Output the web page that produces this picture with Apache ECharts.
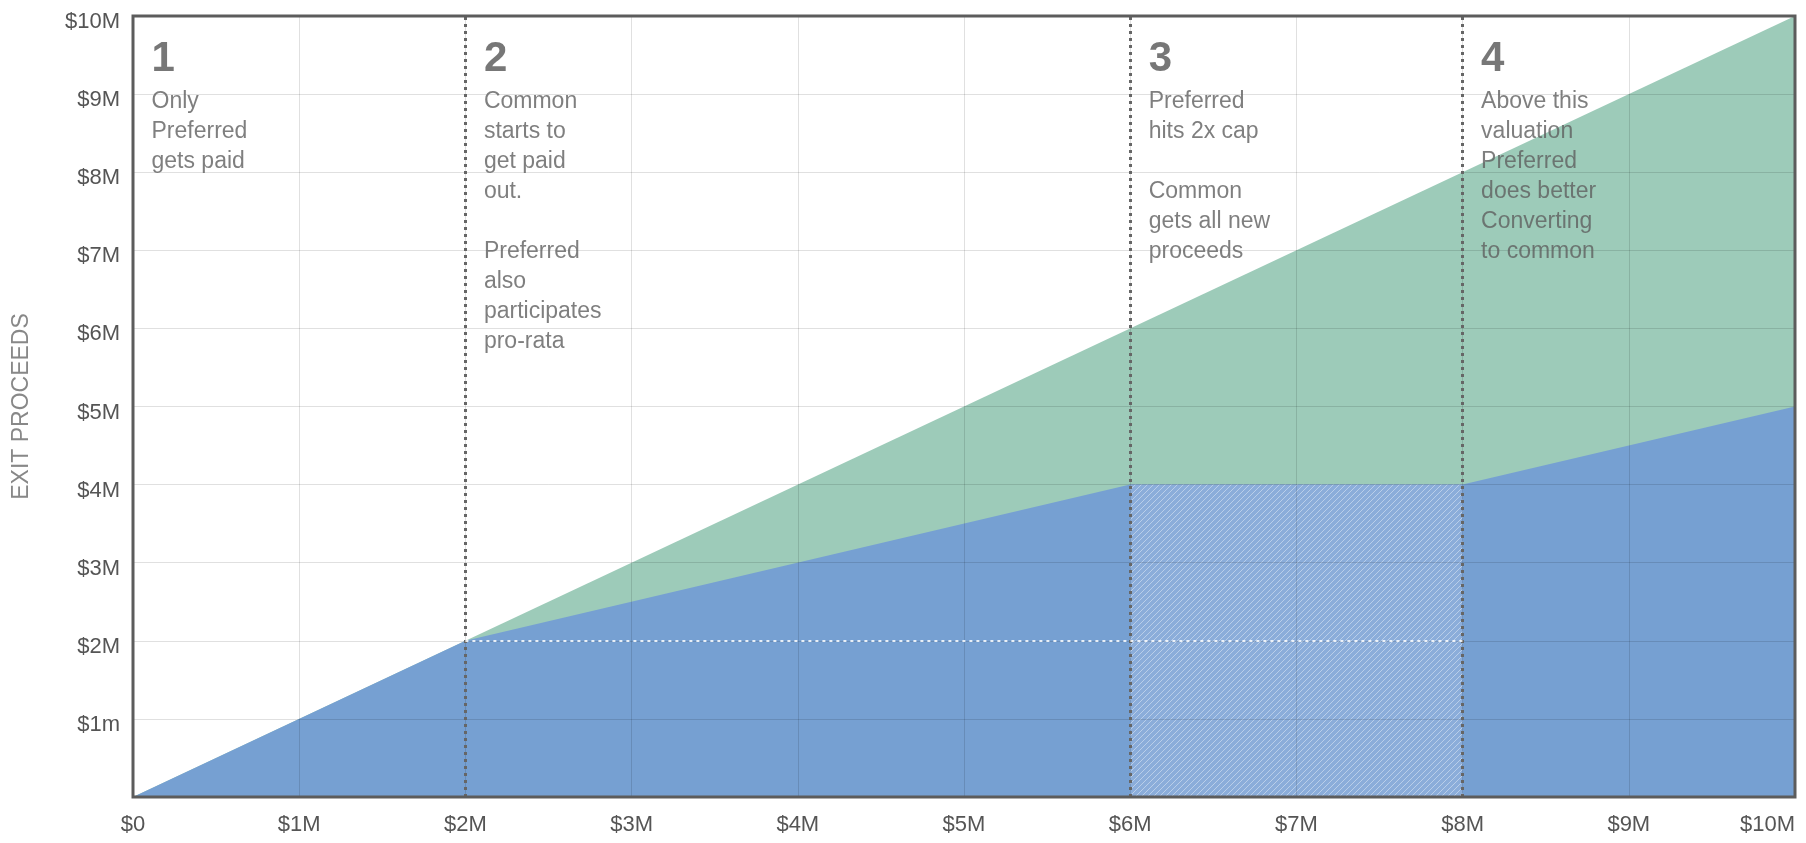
<!DOCTYPE html>
<html>
<head>
<meta charset="utf-8">
<script src="https://cdn.jsdelivr.net/npm/echarts@6/dist/echarts.min.js"></script>
<style>
  html, body { margin: 0; padding: 0; background: #fff; }
  #chart { width: 1806px; height: 843px; }
</style>
</head>
<body>
<div id="chart"></div>
<script>
// exit value ($M) -> proceeds ($M)
const totalX = [0, 10];
const totalY = [0, 10];
const preferredX = [0, 2, 6, 8, 10];
const preferredY = [0, 2, 4, 4, 5];

// capped region (hatched) and threshold lines
const capX = [6, 8];
const capY = [4, 4];
const dividerX = [2, 6, 8];
const commonStart = { x0: 2, x1: 8, y: 2 };

const xTickLabels = ["$0", "$1M", "$2M", "$3M", "$4M", "$5M", "$6M", "$7M", "$8M", "$9M", "$10M"];
const yTickLabels = ["", "$1m", "$2M", "$3M", "$4M", "$5M", "$6M", "$7M", "$8M", "$9M", "$10M"];

const sectionX = [0, 2, 6, 8];
const sectionNum = ["1", "2", "3", "4"];
const sectionText = [
  "Only\nPreferred\ngets paid",
  "Common\nstarts to\nget paid\nout.\n \nPreferred\nalso\nparticipates\npro-rata",
  "Preferred\nhits 2x cap\n \nCommon\ngets all new\nproceeds",
  "Above this\nvaluation\nPreferred\ndoes better\nConverting\nto common",
];

const FONT = '"Liberation Sans", Arial, Helvetica, sans-serif';

// diagonal hatch for the capped region
function hatch() {
  const c = document.createElement("canvas");
  c.width = 6;
  c.height = 6;
  const g = c.getContext("2d");
  g.fillStyle = "#8badda";
  g.fillRect(0, 0, 6, 6);
  g.strokeStyle = "rgba(255,255,255,0.4)";
  g.lineWidth = 1;
  g.beginPath();
  g.moveTo(-1, 7); g.lineTo(7, -1);
  g.moveTo(-1, 1); g.lineTo(1, -1);
  g.moveTo(5, 7); g.lineTo(7, 5);
  g.stroke();
  return c;
}

const zip = (xs, ys) => xs.map((x, i) => [x, ys[i]]);

const chart = echarts.init(document.getElementById("chart"));
chart.setOption({
  animation: false,
  textStyle: { fontFamily: FONT },
  grid: {
    left: 133, right: 11, top: 16, bottom: 46,
    outerBoundsMode: "none",
    containLabel: false,
    show: true, z: 10,
    backgroundColor: "transparent",
    borderColor: "#5c5c5c", borderWidth: 3,
  },
  xAxis: {
    type: "value", min: 0, max: 10, interval: 1, z: 5,
    axisLine: { show: false },
    axisTick: { show: false },
    splitLine: { lineStyle: { color: "rgba(0,0,0,0.12)", width: 1 } },
    axisLabel: {
      margin: 17, color: "#555", fontSize: 22,
      alignMaxLabel: "right",
      formatter: (v) => xTickLabels[Math.round(v)],
    },
  },
  yAxis: {
    type: "value", min: 0, max: 10, interval: 1, z: 5,
    name: "EXIT PROCEEDS",
    nameLocation: "middle",
    nameGap: 100,
    nameTextStyle: { color: "#888", fontSize: 23 },
    axisLine: { show: false },
    axisTick: { show: false },
    splitLine: { lineStyle: { color: "rgba(0,0,0,0.12)", width: 1 } },
    axisLabel: {
      margin: 13,
      formatter: (v) => "{t|" + yTickLabels[Math.round(v)] + "}",
      rich: { t: { color: "#555", fontSize: 22, fontFamily: FONT, padding: [12, 0, 0, 0] } },
    },
  },
  series: [
    {
      name: "Common",
      type: "line",
      data: zip(totalX, totalY),
      symbol: "none",
      lineStyle: { width: 0 },
      areaStyle: { color: "#9dcbb9", opacity: 1 },
      z: 1,
    },
    {
      name: "Preferred",
      type: "line",
      data: zip(preferredX, preferredY),
      symbol: "none",
      lineStyle: { width: 0 },
      areaStyle: { color: "#76a0d2", opacity: 1 },
      z: 2,
    },
    {
      name: "cap",
      type: "line",
      data: zip(capX, capY),
      symbol: "none",
      silent: true,
      lineStyle: { width: 0 },
      areaStyle: { color: { image: hatch(), repeat: "repeat" }, opacity: 1 },
      z: 3,
    },
    {
      name: "dividers",
      type: "line",
      data: [],
      z: 6,
      markLine: {
        silent: true,
        symbol: "none",
        label: { show: false },
        lineStyle: { color: "#666", width: 3, type: [3, 4] },
        data: dividerX.map((x) => [{ coord: [x, 0] }, { coord: [x, 10] }]),
      },
    },
    {
      name: "commonStart",
      type: "line",
      data: [],
      z: 6,
      markLine: {
        silent: true,
        symbol: "none",
        label: { show: false },
        lineStyle: { color: "rgba(255,255,255,0.85)", width: 2, type: [3, 4] },
        data: [[{ coord: [commonStart.x0, commonStart.y] }, { coord: [commonStart.x1, commonStart.y] }]],
      },
    },
    {
      name: "notes",
      type: "scatter",
      symbolSize: 1,
      itemStyle: { color: "transparent" },
      silent: true,
      z: 8,
      data: sectionX.map((x) => [x, 10]),
      label: {
        show: true,
        position: [19, 17],
        align: "left",
        verticalAlign: "top",
        formatter: (p) => "{num|" + sectionNum[p.dataIndex] + "}\n{txt|" +
          sectionText[p.dataIndex].split("\n").join("}\n{txt|") + "}",
        rich: {
          num: { fontSize: 42, fontWeight: "bold", color: "#555", lineHeight: 54, fontFamily: FONT },
          txt: { fontSize: 23, color: "#5f5f5f", lineHeight: 30, fontFamily: FONT },
        },
      },
    },
  ],
});
</script>
</body>
</html>
